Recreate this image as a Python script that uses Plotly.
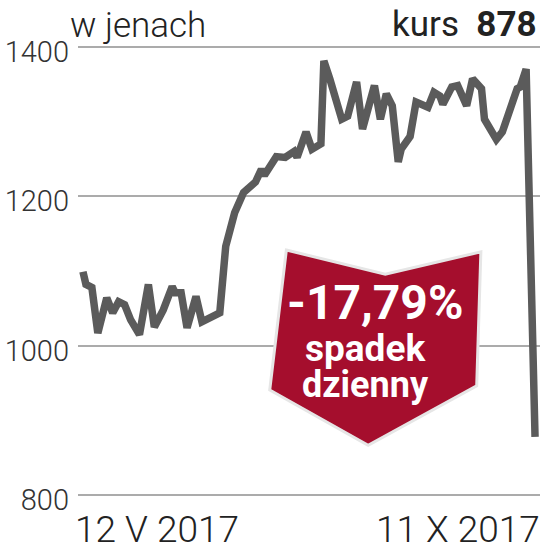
import plotly.graph_objects as go

# kurs w jenach, 12 V 2017 - 11 X 2017
dates = [
    "2017-05-12", "2017-05-13", "2017-05-15", "2017-05-17", "2017-05-20",
    "2017-05-22", "2017-05-24", "2017-05-26", "2017-05-28", "2017-05-30",
    "2017-05-31", "2017-06-03", "2017-06-05", "2017-06-08", "2017-06-11",
    "2017-06-12", "2017-06-14", "2017-06-16", "2017-06-19", "2017-06-21",
    "2017-06-27", "2017-06-29", "2017-07-02", "2017-07-05", "2017-07-07",
    "2017-07-09", "2017-07-11", "2017-07-12", "2017-07-16", "2017-07-19",
    "2017-07-22", "2017-07-23", "2017-07-26", "2017-07-28", "2017-07-31",
    "2017-08-01", "2017-08-03", "2017-08-07", "2017-08-09", "2017-08-12",
    "2017-08-14", "2017-08-18", "2017-08-20", "2017-08-22", "2017-08-24",
    "2017-08-26", "2017-08-27", "2017-08-30", "2017-09-01", "2017-09-04",
    "2017-09-05", "2017-09-07", "2017-09-09", "2017-09-10", "2017-09-13",
    "2017-09-15", "2017-09-18", "2017-09-20", "2017-09-23", "2017-09-24",
    "2017-09-26", "2017-09-28", "2017-09-30", "2017-10-05", "2017-10-06",
    "2017-10-08", "2017-10-11",
]
prices = [
    1099, 1082, 1078, 1017, 1064,
    1044, 1059, 1055, 1035, 1021,
    1015, 1082, 1025, 1048, 1079,
    1071, 1071, 1024, 1066, 1032,
    1044, 1133, 1178, 1205, 1212,
    1219, 1236, 1228, 1253, 1252,
    1260, 1252, 1286, 1263, 1270,
    1381, 1357, 1303, 1307, 1353,
    1290, 1348, 1303, 1337, 1321,
    1246, 1263, 1280, 1326, 1321,
    1319, 1339, 1334, 1323, 1346,
    1348, 1321, 1357, 1344, 1303,
    1290, 1276, 1286, 1344, 1346,
    1370, 878,
]
y_ticks = [800, 1000, 1200, 1400]
first_label = "12 V 2017"
last_label = "11 X 2017"
title_left = "w jenach"
title_right = "kurs  <b>878</b>"
badge_lines = ["-17,79%", "spadek", "dzienny"]

FONT = "Roboto"
LINE_GREY = "#5b5b5b"
RED = "#a50e2d"

fig = go.Figure()
fig.add_trace(go.Scatter(
    x=dates, y=prices, mode="lines",
    line=dict(color=LINE_GREY, width=7.5),
    hoverinfo="skip",
))

# czerwona strzalka
fig.add_shape(
    type="path", xref="paper", yref="paper",
    path="M 0.451 0.546 L 0.665 0.493 L 0.872 0.542 L 0.863 0.248 L 0.628 0.118 L 0.415 0.239 Z",
    fillcolor=RED, line=dict(color="#e6e6e6", width=3), layer="above",
)
badge_pos = [(0.643, 0.432, 48), (0.622, 0.331, 37), (0.622, 0.251, 36)]
for txt, (bx, by, size) in zip(badge_lines, badge_pos):
    fig.add_annotation(
        text=f"<b>{txt}</b>", x=bx, y=by, xref="paper", yref="paper",
        xanchor="center", yanchor="middle", showarrow=False,
        font=dict(family=FONT, size=size, color="white"),
    )

fig.add_annotation(
    text=title_left, x=0, y=1, xref="paper", yref="paper",
    xanchor="left", yanchor="bottom", xshift=-10, yshift=-5, showarrow=False,
    font=dict(family=FONT, size=35, color="#222", weight=300),
)
fig.add_annotation(
    text=title_right, x=0.998, y=1, xref="paper", yref="paper",
    xanchor="right", yanchor="bottom", yshift=-4, showarrow=False,
    font=dict(family=FONT, size=35, color="#222"),
)
fig.add_annotation(
    text=first_label, x=dates[0], y=0, xref="x", yref="paper",
    xanchor="left", yanchor="top", xshift=-9, yshift=-8, borderpad=0,
    showarrow=False, font=dict(family=FONT, size=37, color="#222", weight=300),
)
fig.add_annotation(
    text=last_label, x=dates[-1], y=0, xref="x", yref="paper",
    xanchor="right", yanchor="top", xshift=6, yshift=-8, borderpad=0,
    showarrow=False, font=dict(family=FONT, size=37, color="#222", weight=300),
)

fig.update_layout(
    width=545, height=550,
    margin=dict(l=72, r=5, t=43, b=51),
    plot_bgcolor="white", paper_bgcolor="white",
    showlegend=False,
    xaxis=dict(
        type="date", range=["2017-05-10 08:00", "2017-10-12 16:00"],
        showgrid=False, showticklabels=False, zeroline=False, showline=False,
    ),
    yaxis=dict(
        range=[795, 1405], tickvals=y_ticks, showgrid=True,
        gridcolor="#ababab", gridwidth=1.5, zeroline=False, showline=False,
        ticks="", ticklabelstandoff=8, ticklabelshift=5,
        tickfont=dict(family=FONT, size=29, color="#333", weight=300),
    ),
)

# strona bez marginesu body, zeby wykres zajal cale okno
fig.write_html(
    "out.html",
    config={"displayModeBar": False},
    post_script="document.body.style.margin='0';document.body.style.overflow='hidden';",
)
